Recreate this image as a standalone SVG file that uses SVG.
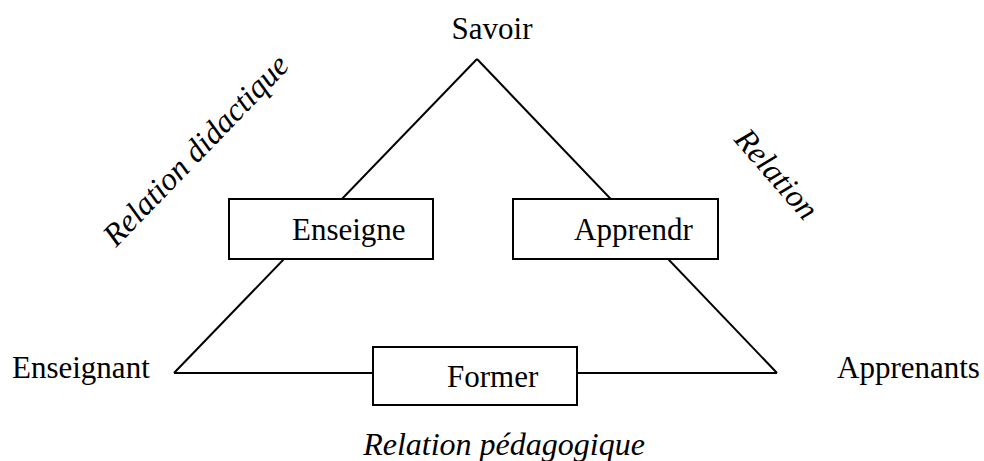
<svg xmlns="http://www.w3.org/2000/svg" width="984" height="461" viewBox="0 0 984 461">
  <style>
    .edge { fill: none; stroke: #000; stroke-width: 2; }
    .box { fill: #fff; stroke: #000; stroke-width: 2; }
    .lbl { font-family: "Liberation Serif", "Times New Roman", serif; font-size: 31px; fill: #000; }
    .rel { font-family: "Liberation Serif", "Times New Roman", serif; font-size: 32px; font-style: italic; fill: #000; }
  </style>
  <rect width="984" height="461" fill="#fff"/>

  <!-- triangle sides -->
  <g id="connectors">
    <line class="edge" x1="477" y1="59" x2="174" y2="373"/>
    <line class="edge" x1="477" y1="59" x2="777" y2="373"/>
    <line class="edge" x1="174" y1="373" x2="777" y2="373"/>
  </g>

  <!-- corner nodes -->
  <g id="savoir">
    <text class="lbl" x="492" y="39" text-anchor="middle">Savoir</text>
  </g>
  <g id="enseignant">
    <text class="lbl" x="12" y="378">Enseignant</text>
  </g>
  <g id="apprenants">
    <text class="lbl" x="837" y="378">Apprenants</text>
  </g>

  <!-- process boxes on each side -->
  <g id="enseigne">
    <rect class="box" x="229" y="199" width="204" height="60"/>
    <text class="lbl" x="292" y="240">Enseigne</text>
  </g>
  <g id="apprendr">
    <rect class="box" x="513" y="199" width="205" height="60"/>
    <text class="lbl" x="574" y="240">Apprendr</text>
  </g>
  <g id="former">
    <rect class="box" x="373" y="347" width="204" height="58"/>
    <text class="lbl" x="447" y="387">Former</text>
  </g>

  <!-- relation labels -->
  <g id="relation-didactique">
    <text class="rel" transform="translate(116 248) rotate(-46)">Relation didactique</text>
  </g>
  <g id="relation">
    <text class="rel" transform="translate(733 140) rotate(49)">Relation</text>
  </g>
  <g id="relation-pedagogique">
    <text class="rel" x="504" y="455" text-anchor="middle">Relation pédagogique</text>
  </g>
</svg>
